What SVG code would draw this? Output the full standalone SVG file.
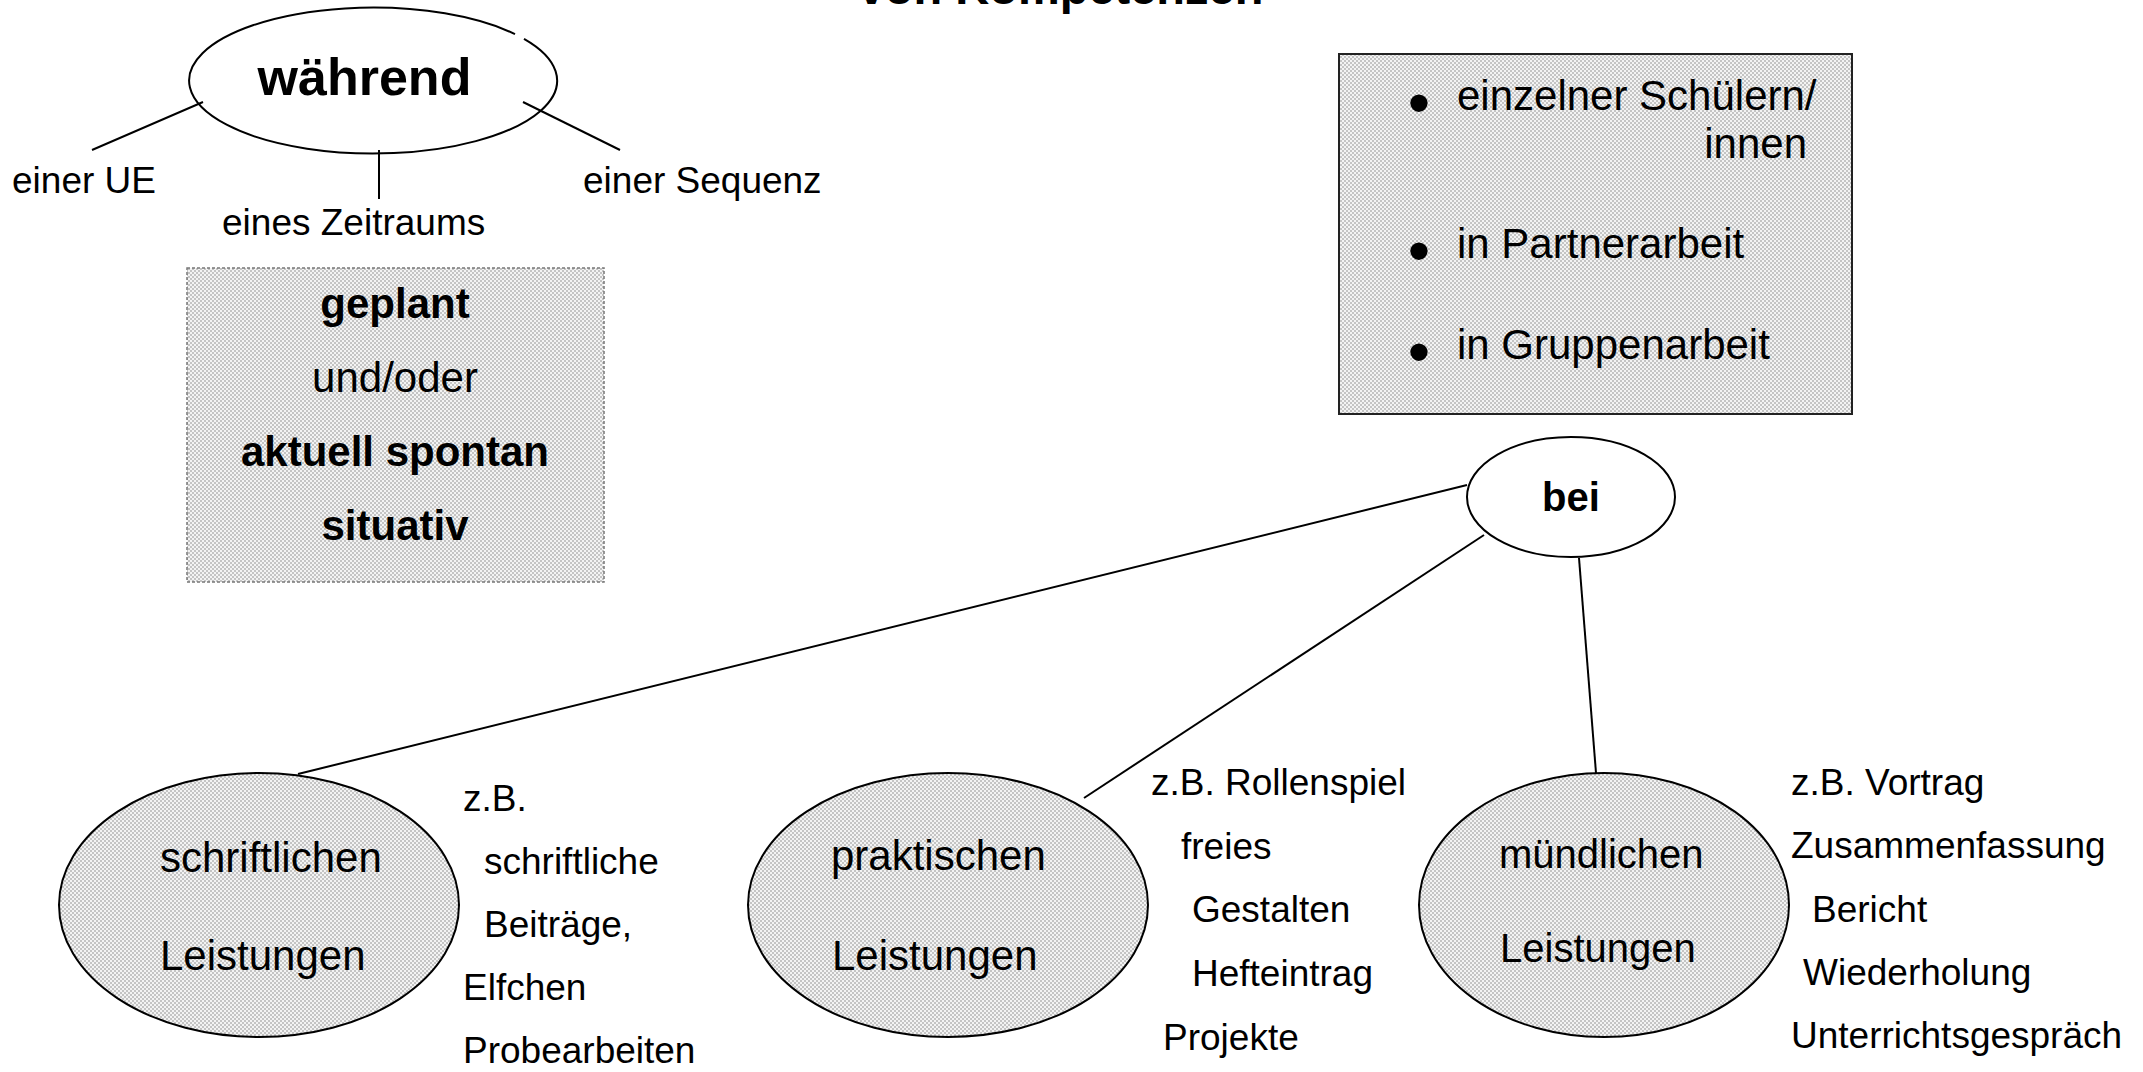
<svg xmlns="http://www.w3.org/2000/svg" width="2143" height="1072" viewBox="0 0 2143 1072">
<style>
text{font-family:"Liberation Sans",Arial,sans-serif;fill:#000}
.b{font-weight:bold}
.s{font-size:37px}
.m{font-size:42px}
.ln{stroke:#000;stroke-width:2;fill:none}
.ell{fill:url(#hatch);stroke:#000;stroke-width:2}
.bul{font-size:64px}
</style>
<defs>
<pattern id="hatch" width="4" height="4" patternUnits="userSpaceOnUse">
<rect width="4" height="4" fill="#f3f3f3"/>
<rect width="2" height="2" fill="#c4c4c4"/>
<rect x="2" y="2" width="2" height="2" fill="#c4c4c4"/>
</pattern>
</defs>
<rect width="2143" height="1072" fill="#fff"/>

<text class="b" x="1061" y="4" font-size="47" text-anchor="middle">von Kompetenzen</text>

<g id="connectors">
<line class="ln" x1="92" y1="150" x2="203" y2="102"/>
<line class="ln" x1="379" y1="150" x2="379" y2="199"/>
<line class="ln" x1="523" y1="102" x2="620" y2="150"/>
<line class="ln" x1="1467" y1="485" x2="298" y2="774"/>
<line class="ln" x1="1484" y1="535" x2="1084" y2="798"/>
<line class="ln" x1="1579" y1="558" x2="1596" y2="773"/>
</g>

<g id="node-waehrend">
<path class="ln" d="M 524 38.8 A 184 73 0 1 1 515 34.1"/>
<text class="b" x="364.5" y="95" font-size="52" text-anchor="middle">während</text>
</g>
<g id="label-einer-ue"><text class="s" x="12" y="193">einer UE</text></g>
<g id="label-zeitraum"><text class="s" x="222" y="235">eines Zeitraums</text></g>
<g id="label-sequenz"><text class="s" x="583" y="193">einer Sequenz</text></g>

<g id="node-geplant">
<rect x="187" y="268" width="417" height="314" fill="url(#hatch)" stroke="#777" stroke-width="1.5" stroke-dasharray="3 2"/>
<text class="b m" x="395" y="318" text-anchor="middle">geplant</text>
<text class="m" x="395" y="392" text-anchor="middle">und/oder</text>
<text class="b m" x="395" y="466" text-anchor="middle">aktuell spontan</text>
<text class="b m" x="395" y="540" text-anchor="middle">situativ</text>
</g>

<g id="node-sozialform">
<rect x="1339" y="54" width="513" height="360" fill="url(#hatch)" stroke="#222" stroke-width="2"/>
<text class="bul" x="1419" y="125" text-anchor="middle">•</text>
<text class="m" x="1457" y="110">einzelner Schülern/</text>
<text class="m" x="1807" y="158" text-anchor="end">innen</text>
<text class="bul" x="1419" y="273" text-anchor="middle">•</text>
<text class="m" x="1457" y="258">in Partnerarbeit</text>
<text class="bul" x="1419" y="374" text-anchor="middle">•</text>
<text class="m" x="1457" y="359">in Gruppenarbeit</text>
</g>

<g id="node-bei">
<ellipse cx="1571" cy="497" rx="104" ry="60" fill="#fff" stroke="#000" stroke-width="2"/>
<text class="b" x="1571" y="511" font-size="40" text-anchor="middle">bei</text>
</g>

<g id="node-schriftlich">
<ellipse class="ell" cx="259" cy="905" rx="200" ry="132"/>
<text class="m" x="160" y="872">schriftlichen</text>
<text class="m" x="160" y="970">Leistungen</text>
</g>
<g id="label-schriftlich">
<text class="s" x="463" y="811">z.B.</text>
<text class="s" x="484" y="874">schriftliche</text>
<text class="s" x="484" y="937">Beiträge,</text>
<text class="s" x="463" y="1000">Elfchen</text>
<text class="s" x="463" y="1063">Probearbeiten</text>
</g>

<g id="node-praktisch">
<ellipse class="ell" cx="948" cy="905" rx="200" ry="132"/>
<text class="m" x="831" y="870">praktischen</text>
<text class="m" x="832" y="970">Leistungen</text>
</g>
<g id="label-praktisch">
<text class="s" x="1151" y="795">z.B. Rollenspiel</text>
<text class="s" x="1181" y="859">freies</text>
<text class="s" x="1192" y="922">Gestalten</text>
<text class="s" x="1192" y="986">Hefteintrag</text>
<text class="s" x="1163" y="1050">Projekte</text>
</g>

<g id="node-muendlich">
<ellipse class="ell" cx="1604" cy="905" rx="185" ry="132"/>
<text x="1499" y="868" font-size="40">mündlichen</text>
<text x="1500" y="962" font-size="40">Leistungen</text>
</g>
<g id="label-muendlich">
<text class="s" x="1791" y="795">z.B. Vortrag</text>
<text class="s" x="1791" y="858">Zusammenfassung</text>
<text class="s" x="1812" y="922">Bericht</text>
<text class="s" x="1803" y="985">Wiederholung</text>
<text class="s" x="1791" y="1048">Unterrichtsgespräch</text>
</g>
</svg>
